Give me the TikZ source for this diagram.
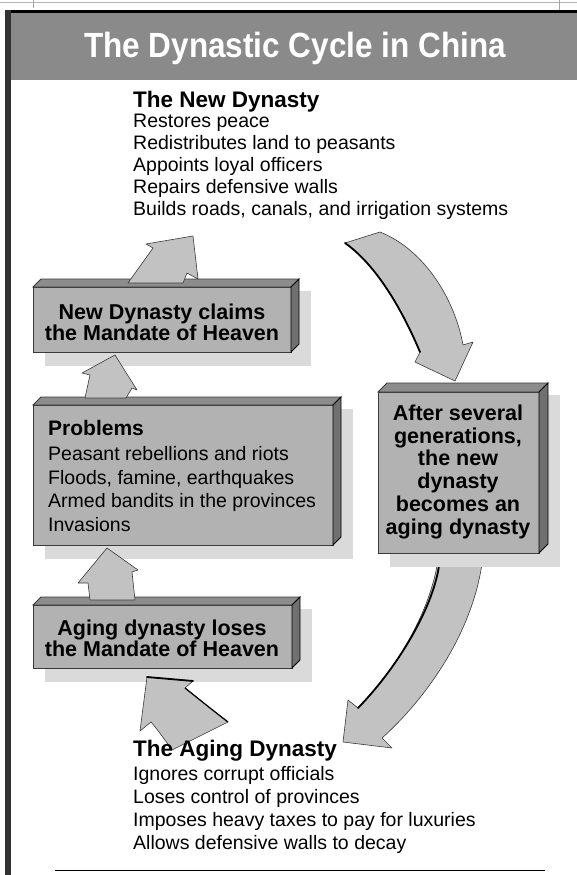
\documentclass[tikz,border=0pt]{standalone}
\usepackage{fontspec}
\setmainfont{Liberation Sans}
\newfontfamily\titlefnt[FakeStretch=0.9]{Liberation Sans}
\definecolor{bandc}{HTML}{8A8A8A}
\definecolor{frontc}{HTML}{B2B2B2}
\definecolor{topc}{HTML}{8C8C8C}
\definecolor{sidec}{HTML}{707070}
\definecolor{shadowc}{HTML}{DADADA}
\definecolor{arrowc}{HTML}{C2C2C2}
\definecolor{edgec}{HTML}{3A3A3A}
\tikzset{
  bodytext/.style={anchor=base west, inner sep=0pt, font=\fontsize{19.5}{23}\selectfont},
  headtext/.style={anchor=base west, inner sep=0pt, font=\fontsize{22.5}{26}\selectfont\bfseries},
  probhead/.style={anchor=base west, inner sep=0pt, font=\fontsize{21}{25}\selectfont\bfseries},
  boxtext/.style={anchor=base, inner sep=0pt, font=\fontsize{21.5}{25}\selectfont\bfseries},
  frontface/.style={fill=frontc, draw=edgec, line width=0.5pt},
  topface/.style={fill=topc, draw=edgec, line width=0.8pt},
  sideface/.style={fill=sidec, draw=black, line width=0.8pt},
  boxshadow/.style={fill=shadowc},
  blockarrow/.style={fill=arrowc, draw=edgec, line width=0.6pt, line join=round},
  darkedge/.style={draw=black, line width=1.8pt, line cap=round},
}
\newcommand{\solidbox}[5]{%
  \fill[boxshadow] (#1+12,#2-#5+12) rectangle (#3+#5+12,#4+14);
  \draw[frontface] (#1,#2) rectangle (#3,#4);
  \draw[topface] (#1,#2) -- (#1+#5,#2-#5) -- (#3+#5,#2-#5) -- (#3,#2) -- cycle;
  \draw[sideface] (#3,#2) -- (#3+#5,#2-#5) -- (#3+#5,#4-#5) -- (#3,#4) -- cycle;
}
\begin{document}
\begin{tikzpicture}[x=1pt,y=-1pt]
\useasboundingbox (0,0) rectangle (577,875);
% frame
\draw[gray!60, line width=0.6pt] (0,2) -- (577,2);
\draw[gray!70, line width=0.8pt] (33,0) -- (33,8) (559,0) -- (559,10);
\fill[bandc] (5,12) rectangle (577,80);
\draw[black, line width=3pt] (5,11.5) -- (577,11.5);
\fill[black!80] (5,10) rectangle (11,875);
\draw[black, line width=1pt] (55,870) -- (545,870);
\node[font=\titlefnt\fontsize{35}{40}\selectfont\bfseries, text=white, inner sep=0pt, anchor=base] (title) at (295,57) {The Dynastic Cycle in China};

% arrow 2 (behind box 3)
\draw[blockarrow] (440,540) .. controls (438,600) and (400,665) .. (358,708)
  -- (348,700) -- (343,742) -- (392,748) -- (382,738)
  .. controls (430,695) and (482,620) .. (484,540) -- cycle;
\draw[darkedge] (440,556) .. controls (438,600) and (400,665) .. (358,708);

% boxes
\solidbox{33}{287}{291}{352}{8}
\solidbox{33}{405}{333}{545}{8}
\solidbox{378}{392}{539}{553}{9}
\solidbox{33}{605}{292}{668}{8}

% arrow 1
\draw[blockarrow] (345,243) .. controls (372,262) and (398,300) .. (420,352)
  -- (415,362) -- (455,381) -- (473,342) -- (463,345)
  .. controls (455,300) and (425,250) .. (380,232) -- cycle;
\draw[darkedge] (345,243) .. controls (372,262) and (398,300) .. (420,352);

% arrow 3
\draw[blockarrow] (128,283) -- (153,248) -- (146,244) -- (193,236) -- (198,279) -- (187,273) -- (183,283) -- cycle;
% arrow 4
\draw[blockarrow] (85,398) -- (90,375) -- (82,373) -- (115,355) -- (137,390) -- (132,388) -- (126,398) -- cycle;
% arrow 5
\draw[blockarrow] (90,600) -- (88,583) -- (78,583) -- (107,548) -- (138,570) -- (132,572) -- (135,600) -- cycle;
% arrow 6
\draw[blockarrow] (172,750) .. controls (165,740) and (158,730) .. (151,722)
  -- (140,731) -- (147,677) -- (193,681) -- (185,688)
  .. controls (200,700) and (215,712) .. (228,722) -- cycle;
\draw[darkedge] (147,677) -- (193,681);
\draw[black, line width=1.2pt] (185,688) .. controls (200,700) and (215,712) .. (228,722);

% texts
\node[headtext] (ndh) at (133,107) {The New Dynasty};
\node[bodytext] (nd1) at (133,127) {Restores peace};
\node[bodytext] (nd2) at (133,149) {Redistributes land to peasants};
\node[bodytext] (nd3) at (133,171) {Appoints loyal officers};
\node[bodytext] (nd4) at (133,193) {Repairs defensive walls};
\node[bodytext] (nd5) at (133,215) {Builds roads, canals, and irrigation systems};

\node[boxtext] (b1a) at (162,319) {New Dynasty claims};
\node[boxtext] (b1b) at (162,340) {the Mandate of Heaven};

\node[probhead] (ph) at (48,435) {Problems};
\node[bodytext] (p1) at (48,460) {Peasant rebellions and riots};
\node[bodytext] (p2) at (48,484) {Floods, famine, earthquakes};
\node[bodytext] (p3) at (48,507) {Armed bandits in the provinces};
\node[bodytext] (p4) at (48,531) {Invasions};

\node[boxtext] (b3a) at (458,420) {After several};
\node[boxtext] (b3b) at (458,443) {generations,};
\node[boxtext] (b3c) at (458,465) {the new};
\node[boxtext] (b3d) at (458,488) {dynasty};
\node[boxtext] (b3e) at (458,511) {becomes an};
\node[boxtext] (b3f) at (458,534) {aging dynasty};

\node[boxtext] (b4a) at (162,635) {Aging dynasty loses};
\node[boxtext] (b4b) at (162,656) {the Mandate of Heaven};

\node[headtext] (adh) at (133,756) {The Aging Dynasty};
\node[bodytext] (ad1) at (133,780) {Ignores corrupt officials};
\node[bodytext] (ad2) at (133,803) {Loses control of provinces};
\node[bodytext] (ad3) at (133,826) {Imposes heavy taxes to pay for luxuries};
\node[bodytext] (ad4) at (133,849) {Allows defensive walls to decay};
\end{tikzpicture}
\end{document}
